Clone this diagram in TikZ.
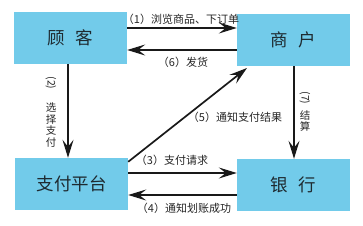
\documentclass[tikz,border=0pt]{standalone}
\usepackage{fontspec}
\newfontfamily\cjk{Noto Sans CJK SC}
\usetikzlibrary{arrows.meta}
\definecolor{boxblue}{HTML}{72CBEA}
\definecolor{txt}{HTML}{1E2A30}
\tikzset{
  ent/.style={fill=boxblue, draw=none, minimum width=113pt, minimum height=52pt, inner sep=0pt,
    font=\cjk\fontsize{17.5}{17.5}\selectfont, text=txt},
  flow/.style={line width=1.7pt, -{Stealth[length=18pt, width=11pt, inset=7pt]}, black!90},
  lbl/.style={font=\cjk\fontsize{11}{11}\selectfont, inner sep=0pt, text=black!85},
  vlbl/.style={lbl, align=center, font=\cjk\fontsize{10.5}{11.8}\selectfont}
}
\begin{document}
\begin{tikzpicture}[x=1pt,y=-1pt]
\useasboundingbox (0,0) rectangle (363,225);
\fill[white] (0,0) rectangle (363,225);
\node[ent] (gk) at (70.5,38) {顾\hspace{0.6em}客};
\node[ent] (sh) at (293.5,40) {商\hspace{0.6em}户};
\node[ent] (zf) at (71.5,184) {支付平台};
\node[ent] (yh) at (293.5,185) {银\hspace{0.6em}行};
% (1) and (6)
\draw[flow] (gk.east |- 0,28) -- (sh.west |- 0,28);
\node[lbl] at (181,19) {（1）浏览商品、下订单};
\draw[flow] (sh.west |- 0,50) -- (gk.east |- 0,50);
\node[lbl] at (183,62) {（6）发货};
% (2)
\draw[flow] (gk.south -| 68,0) -- (zf.north -| 68,0);
\node[lbl, rotate=-90, font=\cjk\fontsize{10.5}{11}\selectfont] at (51,83) {(2)};
\node[vlbl] at (51,125) {选\\择\\支\\付};
% (7)
\draw[flow] (sh.south -| 294,0) -- (yh.north -| 294,0);
\node[lbl, rotate=-90, font=\cjk\fontsize{10.5}{11}\selectfont] at (305,98) {(7)};
\node[vlbl] at (305,121) {结\\算};
% (5)
\coordinate (d5) at (247,68);
\draw[flow] (zf.north east) ++(0,4) coordinate (s5) (s5) -- (d5);
\node[lbl] at (235,117) {（5）通知支付结果};
% (3) and (4)
\draw[flow] (zf.east |- 0,173) -- (yh.west |- 0,173);
\node[lbl] at (172,160) {（3）支付请求};
\draw[flow] (yh.west |- 0,195) -- (zf.east |- 0,195);
\node[lbl] at (184,208) {（4）通知划账成功};
\end{tikzpicture}
\end{document}
